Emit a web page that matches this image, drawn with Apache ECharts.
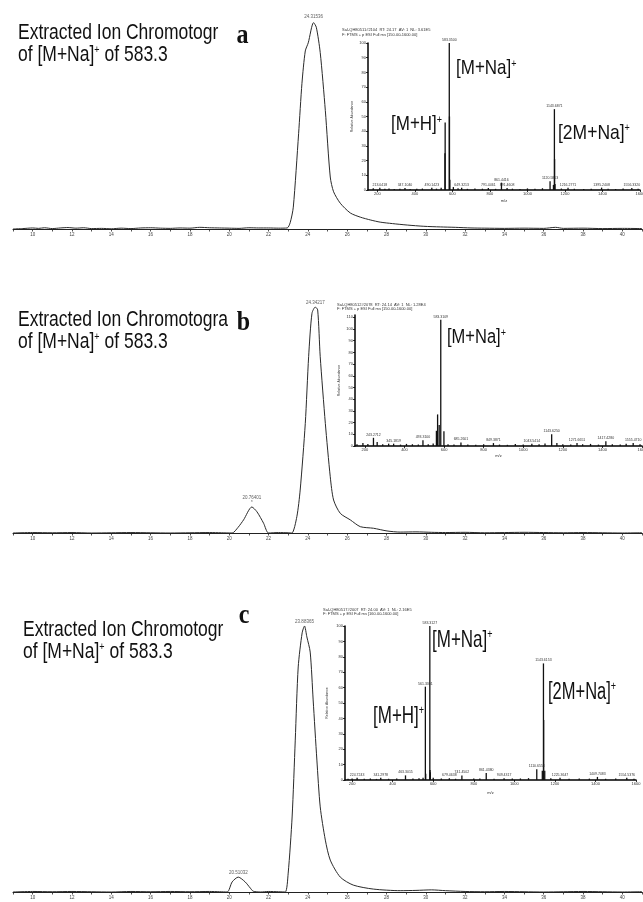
<!DOCTYPE html>
<html><head><meta charset="utf-8">
<script src="https://cdn.jsdelivr.net/npm/echarts@6/dist/echarts.min.js"></script>
<style>html,body{margin:0;padding:0;background:#fff}#c{width:643px;height:902px}</style>
</head><body><div id="c"></div>
<script>
// ---------- Chromatogram data (retention time, min ; relative intensity %) ----------
const chromA_t = [9.0, 9.5, 10.0, 10.3, 10.6, 11.0, 11.4, 11.8, 12.2, 12.6, 13.0, 13.5, 14.0, 14.5, 15.0, 15.5, 16.0, 16.5, 17.0, 17.5, 18.0, 18.5, 19.0, 19.5, 20.0, 20.5, 21.0, 21.5, 22.0, 22.5, 22.95, 23.1, 23.26, 23.53, 23.7, 23.87, 24.02, 24.29, 24.43, 24.63, 24.89, 25.14, 25.31, 25.65, 26.16, 26.67, 27.2, 27.68, 28.3, 29.06, 29.9, 30.74, 31.5, 32.3, 33, 34, 35, 36, 36.6, 37, 38, 39, 40, 41];
const chromA_v = [0, 0.2, 0.5, 0.3, 0.6, 0.2, 0.5, 0.7, 0.4, 0.6, 0.2, 0.3, 0.1, 0.4, 0.2, 0.5, 0.6, 0.4, 0.3, 0.5, 0.4, 0.8, 0.6, 0.5, 0.4, 0.3, 0.6, 0.5, 0.5, 0.4, 0.5, 3, 10.5, 45.8, 70, 85.6, 89.5, 99.2, 97, 84.8, 56.9, 25, 17.9, 12.4, 7.7, 5.7, 4.3, 3.3, 2.6, 1.9, 1.3, 1.0, 0.8, 0.5, 0.4, 0.3, 0.4, 0.3, 0.8, 0.3, 0.4, 0.2, 0.3, 0.2];
const chromB_t = [9, 10, 11, 12, 13, 14, 15, 16, 17, 18, 19, 19.6, 20.15, 20.45, 20.73, 21.15, 21.41, 21.75, 22.0, 22.5, 23.0, 23.19, 23.44, 23.61, 23.87, 24.04, 24.21, 24.38, 24.5, 24.63, 24.89, 25.14, 25.31, 25.65, 26.16, 26.67, 27.34, 28.03, 28.7, 29.5, 30.3, 31, 32, 33, 34, 35, 36, 37, 38, 39, 40, 41];
const chromB_v = [0, 0.2, 0.1, 0.2, 0, 0.1, 0.2, 0.1, 0, 0.1, 0.2, 0.1, 0, 2.5, 5.8, 11.5, 9.4, 4.3, 0, 0.2, 0.1, 0, 7.2, 19, 48.5, 78, 97.2, 100, 98.7, 78, 48.5, 24.9, 14.6, 8.7, 5.8, 2.8, 2.1, 0.9, 0.4, 0.5, 0.3, 0.2, 0.3, 0.1, 0.2, 0.3, 0.2, 0.1, 0.2, 0.1, 0, 0.1];
const chromC_t = [9, 10, 11, 12, 13, 14, 15, 16, 17, 18, 19, 19.5, 19.9, 20.15, 20.46, 20.81, 21.07, 21.22, 21.6, 22, 22.5, 22.85, 23.0, 23.2, 23.36, 23.51, 23.71, 23.83, 23.95, 24.12, 24.27, 24.46, 24.63, 24.89, 25.14, 25.65, 26.31, 27.33, 28.7, 29.5, 30.3, 31, 32, 33, 34, 35, 36, 37, 38, 39, 40, 41];
const chromC_v = [0, 0.2, 0.1, 0.2, 0.1, 0, 0.2, 0.1, 0.2, 0.1, 0.2, 0.1, 0, 3.8, 5.6, 3.8, 1.5, 0.3, 0, 0.2, 0.1, 0, 7.1, 28.2, 57.1, 84.6, 97.4, 100, 95.9, 90.2, 72.2, 49.6, 32, 19.5, 12, 5.6, 2.6, 1.1, 0.5, 0.6, 0.8, 0.5, 0.2, 0.1, 0.2, 0.1, 0, 0.1, 0.2, 0.1, 0, 0.1];
// peak apex labels
const peakA_t = [24.29], peakA_v = [100], peakA_txt = ['24.31536'];
const peakB_t = [24.38, 21.15], peakB_v = [100, 11.5], peakB_txt = ['24.34217', '20.76401\n*'];
const peakC_t = [23.83, 20.46], peakC_v = [100, 5.6], peakC_txt = ['23.88365', '20.51032'];
const chromTickLabels = [10, 12, 14, 16, 18, 20, 22, 24, 26, 28, 30, 32, 34, 36, 38, 40];

// ---------- Mass spectra (m/z ; relative abundance) ----------
const msA_mz = [178, 213.04, 240, 262, 290, 320, 347.1, 375, 410, 440, 490.14, 515, 540, 560.3, 561.3, 583.3, 584.3, 586.3, 605, 630, 649.32, 680, 720, 760, 791.45, 830, 861.44, 891.46, 920, 960, 1000, 1040, 1080, 1120.58, 1138.6, 1143.69, 1144.69, 1147, 1181, 1216.28, 1250, 1300, 1340, 1395.24, 1430, 1470, 1510, 1556.33, 1590];
const msA_int = [1.2, 1.5, 0.8, 1.0, 0.7, 0.9, 1.4, 0.6, 0.8, 1.0, 1.6, 0.9, 1.5, 25, 46, 100, 50, 7, 2, 1.2, 1.5, 0.8, 1.0, 0.9, 1.3, 0.8, 5, 1.4, 0.9, 0.7, 1.1, 0.8, 1.2, 6, 3.5, 55, 21, 4, 1.0, 1.5, 0.8, 0.7, 0.9, 1.6, 0.8, 0.7, 1.0, 1.4, 0.8];
const msA_lab = ['', '213.0418', '', '', '', '', '347.1040', '', '', '', '490.1423', '', '', '', '', '583.3500', '', '', '', '', '649.3213', '', '', '', '791.4461', '', '861.4416', '891.4608', '', '', '', '', '', '1120.5803', '', '1143.6871', '', '', '', '1216.2771', '', '', '', '1395.2408', '', '', '', '1556.3320', ''];
const msB_mz = [160, 190, 215, 243.27, 262, 290, 320, 345.18, 380, 410, 440, 470, 493.31, 520, 545, 561.3, 567.3, 575.3, 583.3, 599.3, 620, 650, 685.26, 720, 760, 800, 849.39, 880, 920, 960, 1000, 1043.54, 1080, 1110, 1143.63, 1170, 1200, 1240, 1271.67, 1300, 1340, 1380, 1417.43, 1450, 1490, 1520, 1555.47, 1590];
const msB_int = [1.5, 2.5, 1.8, 7, 3.5, 1.5, 2.0, 2, 1.2, 1.8, 1.5, 1.2, 5, 1.5, 2.2, 13, 27, 18, 108, 12.6, 1.5, 1.2, 3, 1.2, 1.0, 1.5, 2.5, 1.2, 1.0, 1.8, 1.2, 2, 1.5, 2.2, 10, 2.5, 1.4, 1.2, 2.5, 1.5, 1.8, 1.2, 4, 1.5, 1.2, 2.0, 2.5, 1.5];
const msB_lab = ['', '', '', '243.2712', '', '', '', '345.1819', '', '', '', '', '493.3100', '', '', '', '', '', '583.3109', '', '', '', '685.2601', '', '', '', '849.3871', '', '', '', '', '1043.5414', '', '', '1143.6250', '', '', '', '1271.6651', '', '', '', '1417.4280', '', '', '', '1555.4710', ''];
const msC_mz = [180, 200, 224.72, 260, 290, 320, 341.3, 380, 420, 463.3, 500, 530, 550, 561.33, 563, 583.31, 584.3, 586, 600, 640, 679.46, 710, 741.45, 800, 830, 861.44, 900, 949.43, 990, 1030, 1070, 1110.66, 1138, 1143.62, 1144.6, 1150, 1180, 1225.36, 1270, 1320, 1370, 1409.75, 1450, 1500, 1554.54, 1590];
const msC_int = [0.8, 1.0, 1.5, 0.8, 1.0, 0.7, 1.5, 0.8, 1.0, 3, 0.9, 1.2, 1.5, 60.6, 4, 100, 6.5, 5, 1.5, 1.0, 1.2, 0.8, 3, 0.9, 1.0, 4.5, 0.8, 1.2, 0.9, 1.0, 1.2, 7, 6, 75.7, 39, 6, 1.2, 1.5, 0.8, 1.0, 0.9, 2, 0.8, 1.0, 1.5, 0.8];
const msC_lab = ['', '', '224.7243', '', '', '', '341.2978', '', '', '463.3015', '', '', '', '561.3301', '', '583.3127', '', '', '', '', '679.4638', '', '741.4502', '', '', '861.4380', '', '949.4317', '', '', '', '1110.6553', '', '1143.6153', '', '', '', '1225.3647', '', '', '', '1409.7483', '', '', '1554.5376', ''];
const msTickLabels = [200, 400, 600, 800, 1000, 1200, 1400, 1600];

// ---------- Text ----------
const titleLine1 = ['Extracted Ion Chromotogr', 'Extracted Ion Chromotogra', 'Extracted Ion Chromotogr'];
const panelLetters = ['a', 'b', 'c'];
const headers = [
  ['SaI-QH80511#2104  RT: 24.17  AV: 1  NL: 3.61E5', 'F: FTMS + p ESI Full ms [150.00-1600.00]'],
  ['SaI-QH80512#2078  RT: 24.14  AV: 1  NL: 1.28E4', 'F: FTMS + p ESI Full ms [150.00-1600.00]'],
  ['SaI-QH80517#2007  RT: 24.00  AV: 1  NL: 2.16E5', 'F: FTMS + p ESI Full ms [160.00-1600.00]']
];

const SANS = '"Liberation Sans", Arial, sans-serif';
const SERIF = '"Liberation Serif", "Times New Roman", serif';

const chromGrids = [
  {left: 13, top: 21, width: 629, height: 208},
  {left: 13, top: 307, width: 629, height: 226},
  {left: 13, top: 626, width: 629, height: 266}
];
const msGrids = [
  {left: 368, top: 43, width: 272, height: 147},
  {left: 355, top: 315, width: 287, height: 131},
  {left: 345, top: 626, width: 291, height: 154}
];
const msXmin = [150, 150, 165];
const msYmax = [100, 112, 100];
const msNameGapY = [14, 14, 16];
const msNameGapX = [9, 8, 11];

const grids = chromGrids.concat(msGrids).map(g => Object.assign({outerBoundsMode: 'none', containLabel: false}, g));
const plain = v => String(v);

const xAxes = [], yAxes = [], series = [];
for (let i = 0; i < 3; i++) {
  xAxes.push({type: 'value', gridIndex: i, min: 9, max: 41, interval: 1,
    axisLine: {lineStyle: {color: '#222', width: 1}},
    axisTick: {length: 2.5, lineStyle: {color: '#222', width: 0.8}},
    axisLabel: {customValues: chromTickLabels, formatter: plain, fontSize: 4.5, color: '#444', margin: 3, fontFamily: SANS},
    splitLine: {show: false}});
  yAxes.push({type: 'value', gridIndex: i, min: 0, max: 100, show: false});
}
for (let i = 0; i < 3; i++) {
  xAxes.push({type: 'value', gridIndex: 3 + i, min: msXmin[i], max: 1600,
    name: 'm/z', nameLocation: 'middle', nameGap: msNameGapX[i],
    nameTextStyle: {fontSize: 4, color: '#333', fontFamily: SANS},
    axisLine: {lineStyle: {color: '#000', width: 1.5}},
    axisTick: {customValues: msTickLabels, length: 2, lineStyle: {color: '#000', width: 0.8}},
    axisLabel: {customValues: msTickLabels, formatter: plain, fontSize: 4, color: '#333', margin: 2, fontFamily: SANS},
    splitLine: {show: false}});
  yAxes.push({type: 'value', gridIndex: 3 + i, min: 0, max: msYmax[i], interval: 10,
    name: 'Relative Abundance', nameLocation: 'middle', nameRotate: 90, nameGap: msNameGapY[i],
    nameTextStyle: {fontSize: 3.5, color: '#333', fontFamily: SANS},
    axisLine: {show: true, lineStyle: {color: '#000', width: 1.5}},
    axisTick: {show: true, length: 2, lineStyle: {color: '#000', width: 0.8}},
    axisLabel: {formatter: plain, fontSize: 4, color: '#333', margin: 2, fontFamily: SANS},
    splitLine: {show: false}});
}

const chromT = [chromA_t, chromB_t, chromC_t];
const chromV = [chromA_v, chromB_v, chromC_v];
const peakT = [peakA_t, peakB_t, peakC_t], peakV = [peakA_v, peakB_v, peakC_v], peakTxt = [peakA_txt, peakB_txt, peakC_txt];
for (let i = 0; i < 3; i++) {
  series.push({type: 'line', xAxisIndex: i, yAxisIndex: i, symbol: 'none', smooth: 0.25,
    lineStyle: {color: '#2a2a2a', width: 1}, silent: true,
    data: chromT[i].map((t, k) => [t, chromV[i][k]])});
  series.push({type: 'scatter', xAxisIndex: i, yAxisIndex: i, symbolSize: 0, silent: true,
    itemStyle: {color: 'rgba(0,0,0,0)'},
    label: {show: true, position: 'top', distance: 2, formatter: '{b}', fontSize: 4.5, lineHeight: 5, color: '#333', fontFamily: SANS},
    data: peakT[i].map((t, k) => ({name: peakTxt[i][k], value: [t, peakV[i][k]]}))});
}
const msMz = [msA_mz, msB_mz, msC_mz], msInt = [msA_int, msB_int, msC_int], msLab = [msA_lab, msB_lab, msC_lab];
for (let i = 0; i < 3; i++) {
  series.push({type: 'bar', xAxisIndex: 3 + i, yAxisIndex: 3 + i, barWidth: 1.3, silent: true,
    itemStyle: {color: '#111'},
    label: {show: false, position: 'top', distance: 1, fontSize: 3.5, color: '#333', fontFamily: SANS},
    data: msMz[i].map((m, k) => {
      const d = {value: [m, msInt[i][k]]};
      if (msLab[i][k]) d.label = {show: true, formatter: msLab[i][k]};
      return d;
    })});
}

// ---------- graphic text ----------
const graphic = [];
function txt(x, y, text, opts) {
  graphic.push({type: 'text', x: x, y: y, silent: true, scaleY: opts.sy || 1,
    style: {text: text, fill: opts.fill || '#111', fontSize: opts.fs, fontFamily: opts.ff || SANS,
      fontWeight: opts.fw || 'normal', align: opts.align || 'left', verticalAlign: 'middle', rich: opts.rich}});
}
function supRich(fs, sfs) {
  return {t: {fontSize: fs, fontFamily: SANS, fill: '#111'}, s: {fontSize: sfs, fontFamily: SANS, fill: '#111', verticalAlign: 'top'}};
}
const titleY = [[33.2, 55.2], [320.2, 342.2], [630.2, 652.2]];
const titleX = [18, 18, 23];
const letterPos = [[242.5, 36.2], [243.5, 323.2], [244, 616.2]];
for (let i = 0; i < 3; i++) {
  txt(titleX[i], titleY[i][0], titleLine1[i], {fs: 17.5, sy: 1.22});
  txt(titleX[i], titleY[i][1], '{t|of [M+Na]}{s|+}{t| of 583.3}', {fs: 17.5, sy: 1.22, rich: supRich(17.5, 9)});
  txt(letterPos[i][0], letterPos[i][1], panelLetters[i], {fs: 24, sy: 1.15, ff: SERIF, fw: 'bold', align: 'center'});
}
// inset headers
const headerPos = [[342, 30, 35], [337, 305, 308.5], [323, 610, 614]];
for (let i = 0; i < 3; i++) {
  txt(headerPos[i][0], headerPos[i][1], headers[i][0], {fs: 4, fill: '#333'});
  txt(headerPos[i][0], headerPos[i][2], headers[i][1], {fs: 4, fill: '#333'});
}
// ion annotations
const ann = [
  [456, 69, '[M+Na]', 17, 1.15], [391, 125, '[M+H]', 17, 1.15], [558, 133, '[2M+Na]', 17.5, 1.15],
  [447, 337.5, '[M+Na]', 16.5, 1.2],
  [432, 640, '[M+Na]', 17, 1.4], [373, 716.5, '[M+H]', 17, 1.4], [548, 692.5, '[2M+Na]', 16.5, 1.4]
];
ann.forEach(a => txt(a[0], a[1], '{t|' + a[2] + '}{s|+}', {fs: a[3], sy: a[4], rich: supRich(a[3], 9)}));

const chart = echarts.init(document.getElementById('c'), null, {renderer: 'canvas'});
chart.setOption({
  animation: false,
  backgroundColor: '#fff',
  grid: grids,
  xAxis: xAxes,
  yAxis: yAxes,
  series: series,
  graphic: graphic
});
</script></body></html>
